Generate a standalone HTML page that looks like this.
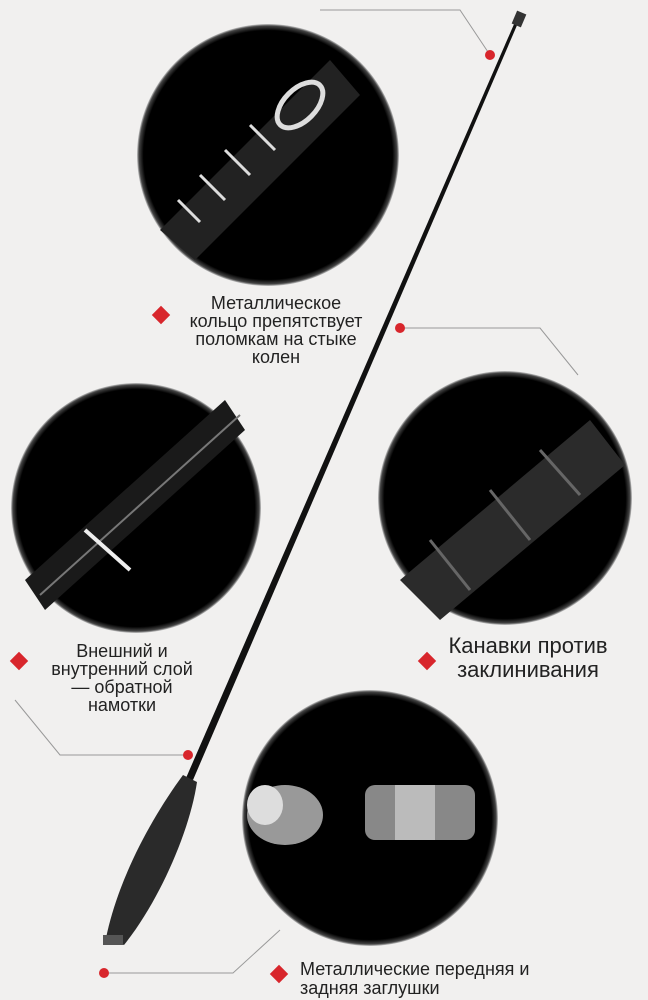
<!DOCTYPE html>
<html><head><meta charset="utf-8"><style>
html,body{margin:0;padding:0;background:#f1f0ef;}
svg{display:block}
text{font-family:"Liberation Sans",sans-serif;fill:#222}
</style></head><body>
<svg width="648" height="1000" viewBox="0 0 648 1000" xmlns="http://www.w3.org/2000/svg">
<defs>
<radialGradient id="g1" cx="0.5" cy="0.5" r="0.5">
<stop offset="0.95" stop-color="#000"/><stop offset="0.985" stop-color="#444"/><stop offset="1" stop-color="#c8c8c8"/>
</radialGradient>
</defs>
<rect width="648" height="1000" fill="#f1f0ef"/>
<g stroke="#999" stroke-width="1" fill="none">
<polyline points="320,10 460,10 490,55"/>
<polyline points="400,328 540,328 578,375"/>
<polyline points="15,700 60,755 188,755"/>
<polyline points="104,973 233,973 280,930"/>
</g>
<g fill="#d8262c">
<circle cx="490" cy="55" r="5"/><circle cx="400" cy="328" r="5"/><circle cx="188" cy="755" r="5"/><circle cx="104" cy="973" r="5"/>
</g>
<circle cx="268" cy="155" r="131" fill="url(#g1)"/>
<circle cx="136" cy="508" r="125" fill="url(#g1)"/>
<circle cx="505" cy="498" r="127" fill="url(#g1)"/>
<circle cx="370" cy="818" r="128" fill="url(#g1)"/>
<g>
<path d="M160,230 L330,60 L360,95 L195,260 Z" fill="#222"/>
<ellipse cx="300" cy="105" rx="28" ry="16" transform="rotate(-45 300 105)" fill="none" stroke="#ddd" stroke-width="5"/>
<g stroke="#ddd" stroke-width="3"><line x1="250" y1="125" x2="275" y2="150"/><line x1="225" y1="150" x2="250" y2="175"/><line x1="200" y1="175" x2="225" y2="200"/><line x1="178" y1="200" x2="200" y2="222"/></g>
<path d="M25,580 L225,400 L245,430 L45,610 Z" fill="#1a1a1a"/>
<line x1="40" y1="595" x2="240" y2="415" stroke="#777" stroke-width="2"/>
<line x1="85" y1="530" x2="130" y2="570" stroke="#eee" stroke-width="4"/>
<path d="M400,580 L590,420 L625,465 L440,620 Z" fill="#2b2b2b"/>
<g stroke="#666" stroke-width="3"><line x1="430" y1="540" x2="470" y2="590"/><line x1="490" y1="490" x2="530" y2="540"/><line x1="540" y1="450" x2="580" y2="495"/></g>
<ellipse cx="285" cy="815" rx="38" ry="30" fill="#999"/>
<ellipse cx="265" cy="805" rx="18" ry="20" fill="#ddd"/>
<rect x="365" y="785" width="110" height="55" rx="10" fill="#888"/>
<rect x="395" y="785" width="40" height="55" fill="#bbb"/>
</g>
<path d="M518,15 L521,16 L193,780 L186,778 Z" fill="#111"/>
<rect x="514" y="12" width="10" height="14" fill="#333" transform="rotate(23 519 19)"/>
<path d="M183,775 L197,782 C190,830 160,900 124,945 L106,938 C118,880 150,820 183,775 Z" fill="#2a2a2a"/>
<rect x="103" y="935" width="20" height="10" fill="#555"/>
<g fill="#d8262c" stroke="#d8262c" stroke-width="1">
<rect x="155" y="309" width="12" height="12" transform="rotate(45 161 315)"/>
<rect x="13" y="655" width="12" height="12" transform="rotate(45 19 661)"/>
<rect x="421" y="655" width="12" height="12" transform="rotate(45 427 661)"/>
<rect x="273" y="968" width="12" height="12" transform="rotate(45 279 974)"/>
</g>
<g font-size="18" text-anchor="middle">
<text x="276" y="309">Металлическое</text>
<text x="276" y="327">кольцо препятствует</text>
<text x="276" y="345">поломкам на стыке</text>
<text x="276" y="363">колен</text>
<text x="122" y="657">Внешний и</text>
<text x="122" y="675">внутренний слой</text>
<text x="122" y="693">— обратной</text>
<text x="122" y="711">намотки</text>
</g>
<g font-size="22" text-anchor="middle">
<text x="528" y="653">Канавки против</text>
<text x="528" y="677">заклинивания</text>
</g>
<g font-size="18">
<text x="300" y="975">Металлические передняя и</text>
<text x="300" y="994">задняя заглушки</text>
</g>
</svg>
</body></html>
